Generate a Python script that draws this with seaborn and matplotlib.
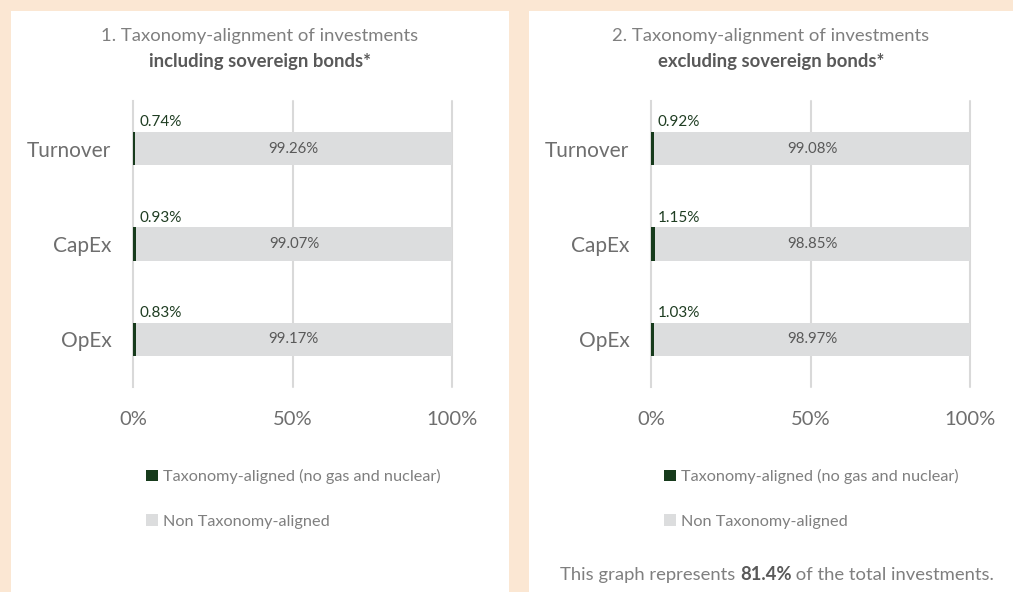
import matplotlib
matplotlib.use("Agg")
import matplotlib.pyplot as plt
import seaborn as sns
import pandas as pd
from matplotlib.patches import Rectangle

categories = ["Turnover", "CapEx", "OpEx"]
incl_aligned = [0.74, 0.93, 0.83]
incl_non = [99.26, 99.07, 99.17]
excl_aligned = [0.92, 1.15, 1.03]
excl_non = [99.08, 98.85, 98.97]
x_ticks = [0, 50, 100]
x_tick_labels = ["0%", "50%", "100%"]
titles = [("1. Taxonomy-alignment of investments", "including sovereign bonds*"),
          ("2. Taxonomy-alignment of investments", "excluding sovereign bonds*")]
legend_labels = ["Taxonomy-aligned (no gas and nuclear)", "Non Taxonomy-aligned"]
footnote = ("This graph represents ", "81.4%", " of the total investments.")

sns.set_theme(style="white")
plt.rcParams['font.family'] = ['Lato', 'DejaVu Sans']

W, H = 1013, 592
fig = plt.figure(figsize=(W / 100, H / 100), dpi=100)
fig.patch.set_facecolor("#FBE7D3")

GREEN = "#173B1C"
GREY_BAR = "#DCDDDE"
GRID = "#D9D9D9"
TXT = "#6E6E6E"
TXT_LIGHT = "#7F7F7F"
TXT_DARK = "#595959"

def fx(px):
    return px / W

def fy(py):
    return 1 - py / H

# white panels
fig.patches.append(Rectangle((fx(11), 0), fx(509) - fx(11), fy(11), transform=fig.transFigure,
                             facecolor="white", edgecolor="none", zorder=-5))
fig.patches.append(Rectangle((fx(529), 0), fx(1013) - fx(529), fy(11), transform=fig.transFigure,
                             facecolor="white", edgecolor="none", zorder=-5))

panels = [
    dict(ax_left=133, aligned=incl_aligned, non=incl_non, title=titles[0], center=260, leg_x=147),
    dict(ax_left=651, aligned=excl_aligned, non=excl_non, title=titles[1], center=771, leg_x=665),
]

for p in panels:
    ax = fig.add_axes([fx(p["ax_left"]), fy(387), fx(319), (387 - 101) / H])
    ax.set_facecolor("none")
    totals = [a + n for a, n in zip(p["aligned"], p["non"])]
    df = pd.DataFrame({"cat": categories, "total": totals, "aligned": p["aligned"], "non": p["non"]})
    sns.barplot(data=df, x="total", y="cat", orient="h", color=GREY_BAR, saturation=1,
                width=0.35, ax=ax, label=legend_labels[1], edgecolor="none", linewidth=0, zorder=2)
    sns.barplot(data=df, x="aligned", y="cat", orient="h", color=GREEN, saturation=1,
                width=0.35, ax=ax, label=legend_labels[0], edgecolor="none", linewidth=0, zorder=3)
    ax.set_xlim(0, 100)
    ax.set_ylim(2.5, -0.5)
    ax.set_xlabel("")
    ax.set_ylabel("")
    for s in ["top", "right", "bottom"]:
        ax.spines[s].set_visible(False)
    ax.spines["left"].set_color(GRID)
    ax.spines["left"].set_linewidth(1.5)
    for xv in x_ticks[1:]:
        ax.axvline(xv, color=GRID, lw=1.5, zorder=1, clip_on=False)
    ax.set_xticks(x_ticks)
    ax.set_xticklabels(x_tick_labels)
    ax.tick_params(axis="x", length=0, pad=17, labelsize=14.5, labelcolor=TXT)
    ax.set_yticks(range(len(categories)))
    ax.set_yticklabels(categories)
    ax.tick_params(axis="y", which="major", length=0, pad=15.5, labelsize=15, labelcolor=TXT)
    ax.set_yticks([-0.5, 0.5, 1.5, 2.5], minor=True)
    ax.tick_params(axis="y", which="minor", length=6, width=1.5, color=GRID, direction="out")

    # labels
    for i, (a, n) in enumerate(zip(p["aligned"], p["non"])):
        ax.annotate(f"{a:.2f}%", xy=(0, i - 0.175), xytext=(5, 2), textcoords="offset points",
                    ha="left", va="bottom", fontsize=11, color="#1F3D22", zorder=5)
        ax.text(a + n / 2, i, f"{n:.2f}%", ha="center", va="center", fontsize=10.8,
                color=TXT_DARK, zorder=5)

    # titles
    fig.text(fx(p["center"]), fy(36), p["title"][0], ha="center", va="center",
             fontsize=13.3, color=TXT_LIGHT)
    fig.text(fx(p["center"]), fy(61), p["title"][1], ha="center", va="center",
             fontsize=13.3, color=TXT_DARK, fontweight="bold")

    # legend
    h, l = ax.get_legend_handles_labels()
    order = [l.index(legend_labels[0]), l.index(legend_labels[1])]
    ax.legend([h[k] for k in order], [l[k] for k in order], loc="center left",
              bbox_to_anchor=(fx(p["leg_x"]) - 0.001, fy(499)), bbox_transform=fig.transFigure,
              frameon=False, fontsize=11.7, labelcolor=TXT_LIGHT, handlelength=0.75,
              handleheight=0.75, handletextpad=0.3, labelspacing=1.85, borderpad=0,
              borderaxespad=0)

# footnote with mixed weight
fig.canvas.draw()
renderer = fig.canvas.get_renderer()
parts = []
for txt, wt, col in [(footnote[0], "normal", TXT_LIGHT), (footnote[1], "bold", TXT_DARK),
                     (footnote[2], "normal", TXT_LIGHT)]:
    t = fig.text(0, fy(575), txt, ha="left", va="center", fontsize=13.3, color=col, fontweight=wt)
    parts.append(t)
widths = []
for t in parts:
    bb = t.get_window_extent(renderer)
    widths.append(bb.width)
total = sum(widths)
x0 = 777 - total / 2
for t, w in zip(parts, widths):
    t.set_x(fx(x0))
    x0 += w

fig.savefig("out.png", dpi=100, facecolor=fig.get_facecolor())
